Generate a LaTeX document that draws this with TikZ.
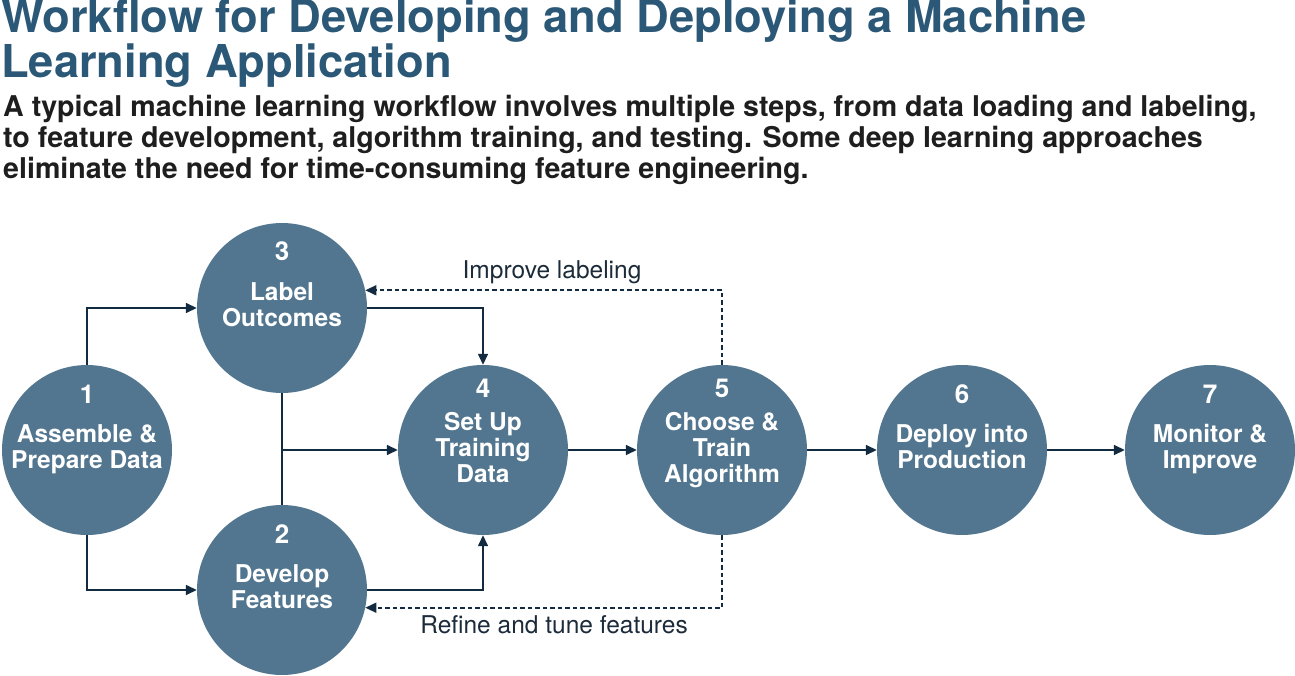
\documentclass[tikz,border=0pt]{standalone}
\usepackage{fontspec}
\setmainfont{TeX Gyre Heros}
\usetikzlibrary{arrows.meta,calc}
\definecolor{titleblue}{HTML}{2B5877}
\definecolor{circfill}{HTML}{52768F}
\definecolor{linecol}{HTML}{132B40}
\definecolor{subcol}{HTML}{1E1E1E}
\definecolor{dashlbl}{HTML}{1C2B3A}
\begin{document}
\begin{tikzpicture}[x=1pt,y=-1pt,
 circ/.style={circle,fill=circfill,minimum size=170pt,inner sep=0pt},
 numtxt/.style={text=white,font=\fontsize{26}{28}\selectfont\bfseries,anchor=base,inner sep=0pt},
 steptxt/.style={text=white,font=\fontsize{24.5}{26}\selectfont\bfseries,anchor=base,inner sep=0pt},
 conn/.style={draw=linecol,line width=1.5pt,-{Triangle[length=11pt,width=10pt]}},
 plainline/.style={draw=linecol,line width=1.5pt},
 dashconn/.style={draw=linecol,line width=1.6pt,dash pattern=on 4.5pt off 3pt,-{Triangle[length=11pt,width=10pt]}},
 dashlabel/.style={text=dashlbl,font=\fontsize{24.5}{26}\selectfont,anchor=base,inner sep=0pt},
 titletxt/.style={text=titleblue,font=\fontsize{45.3}{46}\selectfont\bfseries,anchor=base west,inner sep=0pt},
 subtxt/.style={text=subcol,font=\fontsize{28.6}{30}\selectfont\bfseries,anchor=base west,inner sep=0pt}]
\useasboundingbox (0,0) rectangle (1295,676);

% title and subtitle
\node[titletxt] (title1) at (1,33) {Workflow for Developing and Deploying a Machine};
\node[titletxt] (title2) at (1,78) {Learning Application};
\node[subtxt] (sub1) at (3,117) {A typical machine learning workflow involves multiple steps, from data loading and labeling,};
\node[subtxt] (sub2) at (3,148) {to feature development, algorithm training, and testing. Some deep learning approaches};
\node[subtxt] (sub3) at (3,179) {eliminate the need for time-consuming feature engineering.};

% two-line steps
\foreach \n/\x/\y/\a/\b in {1/87/450/Assemble \&/Prepare Data,
                            3/282/308/Label/Outcomes,
                            2/282/590/Develop/Features,
                            6/962/450/Deploy into/Production,
                            7/1210/450/Monitor \&/Improve}{
  \node[circ] (c\n) at (\x,\y) {};
  \node[numtxt] (n\n) at ($(c\n.center)+(0,-47)$) {\n};
  \node[steptxt] (a\n) at ($(c\n.center)+(0,-8)$) {\a};
  \node[steptxt] (b\n) at ($(c\n.center)+(0,18)$) {\b};
}
% three-line steps
\foreach \n/\x/\y/\a/\b/\c in {4/483/450/Set Up/Training/Data,
                               5/722/450/Choose \&/Train/Algorithm}{
  \node[circ] (c\n) at (\x,\y) {};
  \node[numtxt] (n\n) at ($(c\n.center)+(0,-53)$) {\n};
  \node[steptxt] (a\n) at ($(c\n.center)+(0,-20)$) {\a};
  \node[steptxt] (b\n) at ($(c\n.center)+(0,6)$) {\b};
  \node[steptxt] (d\n) at ($(c\n.center)+(0,32)$) {\c};
}

% connectors
\draw[conn] (c1.north) |- (c3.west);
\draw[conn] (c1.south) |- (c2.west);
\draw[conn] (c3.east) -| (c4.north);
\draw[conn] (c2.east) -| (c4.south);
\draw[plainline] (c3.south) -- (c2.north);
\coordinate (j) at (c3.south |- c4.west);
\draw[conn] (j) -- (c4.west);
\draw[conn] (c4) -- (c5);
\draw[conn] (c5) -- (c6);
\draw[conn] (c6) -- (c7);

% feedback loops
\draw[dashconn] (c5.north) |- (c3.12);
\draw[dashconn] (c5.south) |- (c2.-12);
\node[dashlabel] (lblimp) at (552,279) {Improve labeling};
\node[dashlabel] (lblref) at (554,633) {Refine and tune features};
\end{tikzpicture}
\end{document}
